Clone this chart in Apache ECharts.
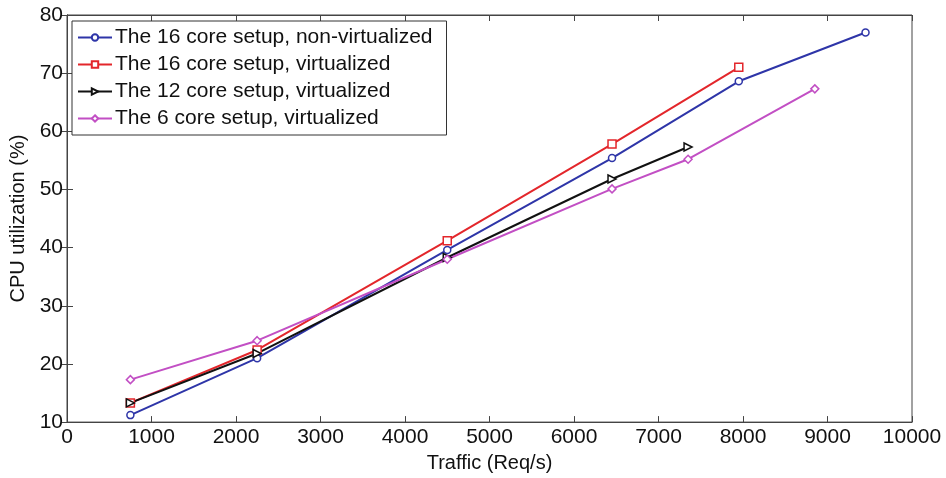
<!DOCTYPE html>
<html><head><meta charset="utf-8">
<script src="https://cdn.jsdelivr.net/npm/echarts@6/dist/echarts.min.js"></script>
<style>html,body{margin:0;padding:0;background:#fff}#c{width:946px;height:478px}</style>
</head><body><div id="c"></div>
<script>
const seriesNames = ['The 16 core setup, non-virtualized','The 16 core setup, virtualized','The 12 core setup, virtualized','The 6 core setup, virtualized'];
const x16nv = [750, 2250, 4500, 6450, 7950, 9450];
const y16nv = [11.2, 21.0, 39.6, 55.4, 68.6, 77.0];
const x16v = [750, 2250, 4500, 6450, 7950];
const y16v = [13.3, 22.4, 41.2, 57.8, 71.0];
const x12v = [750, 2250, 4500, 6450, 7350];
const y12v = [13.3, 21.8, 38.3, 51.8, 57.3];
const x6v = [750, 2250, 4500, 6450, 7350, 8850];
const y6v = [17.3, 24.0, 38.0, 50.1, 55.2, 67.3];
const xTicks = [0,1000,2000,3000,4000,5000,6000,7000,8000,9000,10000];
const yTicks = [10,20,30,40,50,60,70,80];

const pair = (xs, ys) => xs.map((x, i) => [x, ys[i]]);
const font = 'Liberation Sans';
const colors = ['#2e35a8', '#e3262b', '#111111', '#c24fc4'];
const symbols = ['circle', 'rect', 'path://M0,0 L10,5 L0,10 Z', 'diamond'];
const sizes = [7, 8, 8, 8];
const datas = [pair(x16nv, y16nv), pair(x16v, y16v), pair(x12v, y12v), pair(x6v, y6v)];

const axisCommon = {
  axisLine: { show: true, lineStyle: { color: '#444', width: 1 } },
  axisTick: { show: true, inside: true, length: 6, lineStyle: { color: '#444' } },
  splitLine: { show: false }
};

const chart = echarts.init(document.getElementById('c'));
chart.setOption({
  animation: false,
  backgroundColor: '#fff',
  grid: { left: 67, right: 34, top: 15, bottom: 54, show: true, borderColor: '#444', borderWidth: 1 },
  xAxis: [
    Object.assign({ type: 'value', min: xTicks[0], max: xTicks[xTicks.length-1], interval: 1000,
      name: 'Traffic (Req/s)', nameLocation: 'middle', nameGap: 30,
      nameTextStyle: { fontFamily: font, fontSize: 20, color: '#111' },
      axisLabel: { fontFamily: font, fontSize: 21, color: '#111', margin: 5, formatter: v => String(v) } }, axisCommon),
    Object.assign({ type: 'value', position: 'top', min: xTicks[0], max: xTicks[xTicks.length-1], interval: 1000,
      axisLabel: { show: false } }, axisCommon)
  ],
  yAxis: [
    Object.assign({ type: 'value', min: yTicks[0], max: yTicks[yTicks.length-1], interval: 10,
      name: 'CPU utilization (%)', nameLocation: 'middle', nameGap: 38,
      nameTextStyle: { fontFamily: font, fontSize: 20, color: '#111' },
      axisLabel: { fontFamily: font, fontSize: 21, color: '#111', margin: 4 } }, axisCommon),
    Object.assign({ type: 'value', position: 'right', min: yTicks[0], max: yTicks[yTicks.length-1], interval: 10,
      axisLabel: { show: false } }, axisCommon)
  ],
  legend: {
    orient: 'vertical', left: 72, top: 21,
    backgroundColor: '#fff', borderColor: '#333', borderWidth: 1,
    padding: [6, 14, 6, 5], itemGap: 6, itemWidth: 34, itemHeight: 8,
    textStyle: { fontFamily: font, fontSize: 21, color: '#111', padding: [0, 0, 0, -2] },
    data: seriesNames
  },
  series: seriesNames.map((n, i) => ({
    name: n, type: 'line', data: datas[i],
    symbol: symbols[i], symbolSize: sizes[i], showAllSymbol: true,
    itemStyle: { color: '#fff', borderColor: colors[i], borderWidth: 1.5 },
    lineStyle: { color: colors[i], width: 2 },
    emphasis: { disabled: true }
  }))
});
</script></body></html>
